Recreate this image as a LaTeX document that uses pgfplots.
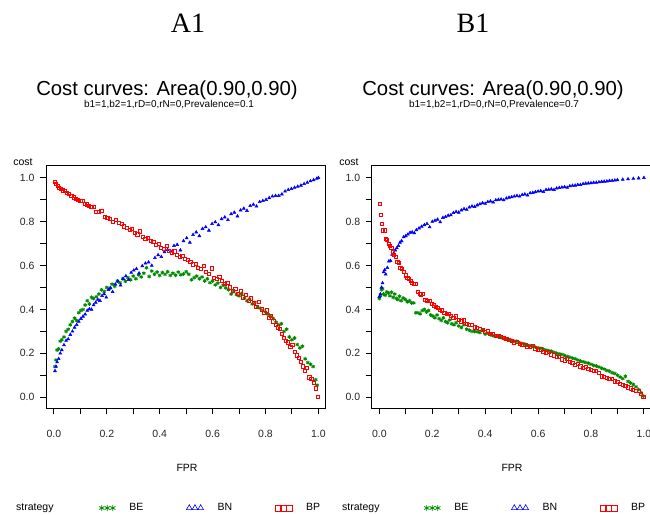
\documentclass[border=0pt]{standalone}
\usepackage{pgfplots}
\pgfplotsset{compat=1.18}
\usepackage{pgfplotstable}
\usepackage{fontspec}
\setmainfont{Liberation Sans}
\newfontfamily\timesf{Liberation Serif}
\definecolor{beg}{RGB}{0,140,0}
\definecolor{bnb}{RGB}{0,0,255}
\definecolor{bpr}{RGB}{255,0,0}

\pgfplotstableread{
x y
0.004 0.980
0.008 0.972
0.014 0.962
0.020 0.955
0.027 0.950
0.034 0.942
0.041 0.938
0.050 0.930
0.058 0.925
0.066 0.917
0.075 0.910
0.083 0.905
0.092 0.900
0.100 0.893
0.108 0.895
0.116 0.880
0.125 0.878
0.133 0.872
0.142 0.868
0.150 0.868
0.160 0.845
0.170 0.843
0.180 0.848
0.192 0.820
0.202 0.818
0.212 0.812
0.224 0.800
0.234 0.808
0.245 0.795
0.256 0.790
0.265 0.778
0.276 0.772
0.286 0.762
0.296 0.765
0.305 0.748
0.316 0.742
0.326 0.755
0.336 0.730
0.346 0.722
0.356 0.725
0.366 0.712
0.376 0.706
0.386 0.692
0.396 0.700
0.406 0.680
0.416 0.676
0.426 0.690
0.436 0.668
0.446 0.660
0.456 0.664
0.466 0.650
0.476 0.640
0.486 0.642
0.496 0.630
0.506 0.625
0.516 0.615
0.526 0.605
0.536 0.607
0.546 0.590
0.556 0.585
0.566 0.598
0.576 0.570
0.586 0.560
0.596 0.587
0.606 0.545
0.616 0.540
0.626 0.548
0.636 0.528
0.646 0.515
0.656 0.520
0.666 0.500
0.676 0.485
0.686 0.495
0.696 0.470
0.706 0.482
0.716 0.455
0.726 0.465
0.736 0.440
0.746 0.450
0.756 0.428
0.766 0.412
0.776 0.435
0.786 0.400
0.796 0.385
0.806 0.395
0.814 0.360
0.822 0.370
0.830 0.345
0.838 0.330
0.846 0.318
0.854 0.312
0.862 0.290
0.870 0.270
0.878 0.255
0.886 0.250
0.894 0.230
0.902 0.240
0.910 0.205
0.918 0.190
0.926 0.180
0.934 0.160
0.942 0.140
0.950 0.120
0.958 0.135
0.966 0.090
0.974 0.085
0.982 0.065
0.990 0.040
0.998 0.000
}\lbp

\pgfplotstableread{
x y
0.004 0.120
0.008 0.140
0.012 0.160
0.018 0.175
0.024 0.200
0.030 0.215
0.038 0.238
0.046 0.258
0.054 0.265
0.062 0.285
0.070 0.300
0.078 0.318
0.086 0.330
0.094 0.345
0.102 0.358
0.110 0.368
0.118 0.378
0.126 0.395
0.134 0.402
0.142 0.400
0.150 0.420
0.158 0.432
0.166 0.445
0.174 0.440
0.182 0.462
0.190 0.470
0.198 0.455
0.206 0.490
0.214 0.498
0.222 0.480
0.232 0.515
0.242 0.528
0.252 0.510
0.262 0.540
0.272 0.552
0.282 0.535
0.292 0.568
0.302 0.578
0.312 0.585
0.322 0.565
0.334 0.598
0.346 0.610
0.358 0.615
0.370 0.600
0.382 0.635
0.394 0.648
0.406 0.640
0.418 0.662
0.430 0.672
0.442 0.665
0.454 0.690
0.466 0.695
0.478 0.670
0.490 0.712
0.502 0.725
0.514 0.705
0.526 0.740
0.538 0.752
0.550 0.735
0.562 0.768
0.574 0.775
0.586 0.760
0.598 0.790
0.610 0.798
0.622 0.785
0.634 0.812
0.646 0.820
0.658 0.808
0.670 0.835
0.682 0.842
0.694 0.825
0.706 0.852
0.718 0.860
0.730 0.850
0.742 0.872
0.754 0.878
0.766 0.870
0.778 0.890
0.790 0.895
0.802 0.900
0.814 0.908
0.826 0.915
0.838 0.918
0.850 0.918
0.862 0.925
0.874 0.938
0.886 0.945
0.898 0.950
0.910 0.955
0.922 0.960
0.934 0.965
0.946 0.972
0.958 0.978
0.970 0.985
0.982 0.990
0.994 0.996
1.000 1.000
}\lbn

\pgfplotstableread{
x y
0.004 0.140
0.008 0.170
0.012 0.215
0.018 0.220
0.024 0.255
0.030 0.262
0.038 0.275
0.046 0.300
0.054 0.310
0.062 0.330
0.070 0.345
0.078 0.360
0.086 0.350
0.094 0.385
0.102 0.395
0.110 0.400
0.118 0.420
0.126 0.440
0.134 0.425
0.142 0.455
0.150 0.450
0.160 0.458
0.170 0.470
0.180 0.490
0.190 0.482
0.200 0.500
0.210 0.495
0.220 0.515
0.230 0.505
0.240 0.530
0.250 0.522
0.260 0.540
0.270 0.528
0.280 0.545
0.290 0.535
0.300 0.552
0.310 0.540
0.320 0.558
0.330 0.548
0.340 0.565
0.350 0.590
0.360 0.550
0.370 0.575
0.380 0.560
0.390 0.570
0.400 0.555
0.410 0.568
0.420 0.560
0.430 0.572
0.440 0.555
0.450 0.565
0.460 0.556
0.470 0.570
0.480 0.558
0.490 0.562
0.500 0.572
0.510 0.560
0.520 0.535
0.530 0.545
0.540 0.552
0.550 0.540
0.560 0.548
0.570 0.530
0.580 0.540
0.590 0.522
0.600 0.530
0.610 0.512
0.620 0.520
0.630 0.500
0.640 0.510
0.650 0.498
0.660 0.490
0.670 0.470
0.680 0.482
0.690 0.468
0.700 0.462
0.710 0.472
0.720 0.452
0.730 0.440
0.740 0.448
0.750 0.425
0.760 0.432
0.770 0.412
0.780 0.405
0.790 0.395
0.800 0.388
0.810 0.378
0.820 0.368
0.830 0.358
0.840 0.342
0.850 0.330
0.860 0.335
0.870 0.300
0.880 0.310
0.890 0.275
0.900 0.262
0.910 0.270
0.920 0.240
0.930 0.225
0.940 0.232
0.950 0.175
0.960 0.158
0.970 0.150
0.980 0.140
0.990 0.080
0.995 0.055
}\lbe

\pgfplotstableread{
x y
0.000 0.458
0.004 0.470
0.008 0.500
0.012 0.520
0.016 0.570
0.020 0.580
0.024 0.560
0.030 0.590
0.036 0.620
0.042 0.622
0.048 0.650
0.054 0.655
0.060 0.670
0.066 0.680
0.072 0.690
0.078 0.705
0.084 0.712
0.092 0.730
0.100 0.735
0.108 0.742
0.116 0.750
0.124 0.752
0.132 0.748
0.140 0.762
0.150 0.770
0.160 0.778
0.170 0.785
0.180 0.790
0.190 0.775
0.200 0.800
0.210 0.805
0.220 0.810
0.230 0.798
0.240 0.818
0.250 0.822
0.260 0.828
0.270 0.830
0.280 0.840
0.290 0.845
0.300 0.842
0.310 0.852
0.320 0.858
0.330 0.855
0.340 0.865
0.350 0.870
0.360 0.868
0.370 0.875
0.380 0.880
0.390 0.885
0.400 0.882
0.410 0.890
0.420 0.893
0.430 0.888
0.440 0.898
0.450 0.900
0.460 0.902
0.470 0.898
0.480 0.906
0.490 0.910
0.500 0.912
0.510 0.915
0.520 0.918
0.530 0.915
0.540 0.922
0.550 0.925
0.560 0.920
0.570 0.930
0.580 0.932
0.590 0.935
0.600 0.938
0.610 0.940
0.620 0.936
0.630 0.945
0.640 0.946
0.650 0.948
0.660 0.945
0.670 0.952
0.680 0.954
0.690 0.956
0.700 0.958
0.710 0.955
0.720 0.962
0.730 0.964
0.740 0.965
0.750 0.968
0.760 0.968
0.770 0.972
0.780 0.974
0.790 0.975
0.800 0.976
0.810 0.978
0.820 0.978
0.830 0.980
0.840 0.982
0.850 0.983
0.860 0.984
0.870 0.986
0.880 0.987
0.890 0.988
0.900 0.990
0.920 0.992
0.940 0.994
0.960 0.996
0.980 0.998
1.000 1.000
}\rbn

\pgfplotstableread{
x y
0.003 0.880
0.006 0.830
0.010 0.790
0.014 0.760
0.020 0.760
0.026 0.720
0.030 0.715
0.036 0.700
0.040 0.690
0.046 0.680
0.052 0.660
0.056 0.650
0.062 0.640
0.068 0.615
0.074 0.612
0.080 0.588
0.086 0.585
0.094 0.570
0.100 0.555
0.106 0.545
0.112 0.540
0.118 0.530
0.124 0.520
0.130 0.515
0.136 0.515
0.146 0.480
0.152 0.470
0.158 0.468
0.166 0.470
0.174 0.445
0.182 0.440
0.190 0.440
0.198 0.425
0.206 0.418
0.214 0.410
0.222 0.405
0.230 0.398
0.238 0.395
0.246 0.385
0.254 0.380
0.262 0.378
0.270 0.370
0.280 0.362
0.290 0.368
0.300 0.352
0.310 0.345
0.320 0.350
0.330 0.335
0.340 0.328
0.350 0.330
0.360 0.318
0.370 0.315
0.380 0.310
0.390 0.305
0.400 0.298
0.410 0.300
0.420 0.290
0.430 0.288
0.440 0.280
0.450 0.278
0.460 0.275
0.470 0.270
0.480 0.265
0.490 0.262
0.500 0.258
0.510 0.250
0.520 0.252
0.530 0.242
0.540 0.238
0.550 0.240
0.560 0.230
0.570 0.228
0.580 0.232
0.590 0.220
0.600 0.215
0.610 0.218
0.620 0.208
0.630 0.200
0.640 0.205
0.650 0.195
0.660 0.190
0.670 0.182
0.680 0.185
0.690 0.172
0.700 0.168
0.710 0.175
0.720 0.160
0.730 0.155
0.740 0.148
0.750 0.150
0.760 0.140
0.770 0.135
0.780 0.138
0.790 0.128
0.800 0.125
0.810 0.118
0.820 0.120
0.830 0.110
0.840 0.095
0.850 0.092
0.860 0.088
0.870 0.082
0.880 0.085
0.890 0.072
0.900 0.070
0.910 0.062
0.920 0.055
0.930 0.050
0.940 0.045
0.950 0.040
0.960 0.035
0.970 0.030
0.980 0.028
0.990 0.015
0.998 0.000
}\rbp

\pgfplotstableread{
x y
0.000 0.450
0.004 0.462
0.008 0.490
0.012 0.495
0.016 0.470
0.022 0.465
0.028 0.480
0.034 0.475
0.040 0.462
0.046 0.478
0.052 0.455
0.058 0.470
0.064 0.450
0.070 0.445
0.076 0.460
0.082 0.440
0.090 0.452
0.098 0.445
0.106 0.435
0.114 0.440
0.122 0.430
0.130 0.430
0.138 0.385
0.146 0.385
0.154 0.380
0.162 0.395
0.170 0.400
0.178 0.388
0.186 0.395
0.194 0.375
0.202 0.370
0.210 0.362
0.218 0.375
0.226 0.358
0.234 0.350
0.242 0.362
0.250 0.345
0.258 0.340
0.266 0.352
0.274 0.335
0.282 0.330
0.290 0.340
0.300 0.325
0.310 0.318
0.320 0.330
0.330 0.310
0.340 0.305
0.350 0.300
0.360 0.300
0.370 0.298
0.380 0.295
0.390 0.305
0.400 0.288
0.410 0.292
0.420 0.285
0.430 0.280
0.440 0.278
0.450 0.275
0.460 0.272
0.470 0.268
0.480 0.265
0.490 0.262
0.500 0.258
0.510 0.255
0.520 0.255
0.530 0.248
0.540 0.245
0.550 0.242
0.560 0.238
0.570 0.235
0.580 0.232
0.590 0.228
0.600 0.225
0.610 0.222
0.620 0.218
0.630 0.215
0.640 0.212
0.650 0.210
0.660 0.205
0.670 0.200
0.680 0.198
0.690 0.195
0.700 0.190
0.710 0.186
0.720 0.182
0.730 0.178
0.740 0.175
0.750 0.170
0.760 0.165
0.770 0.162
0.780 0.158
0.790 0.155
0.800 0.150
0.810 0.145
0.820 0.142
0.830 0.138
0.840 0.132
0.850 0.128
0.860 0.122
0.870 0.118
0.880 0.112
0.890 0.108
0.900 0.100
0.910 0.092
0.920 0.085
0.930 0.095
0.940 0.072
0.950 0.065
0.960 0.058
0.970 0.048
0.980 0.035
0.990 0.020
0.998 0.005
}\rbe

\pgfplotsset{
  cc/.style={
    scale only axis, height=243pt,
    ymin=-0.049, ymax=1.058,
    xtick={0,0.2,0.4,0.6,0.8,1}, xticklabels={0.0,0.2,0.4,0.6,0.8,1.0},
    minor xtick={0.1,0.3,0.5,0.7,0.9},
    ytick={0,0.2,0.4,0.6,0.8,1}, yticklabels={0.0,0.2,0.4,0.6,0.8,1.0},
    minor ytick={0.1,0.3,0.5,0.7,0.9},
    xtick pos=bottom, ytick pos=left,
    tick align=outside, major tick length=6pt, minor tick length=6pt,
    every tick/.style={black, line width=0.9pt},
    axis line style={line width=0.9pt},
    tick label style={font=\fontsize{10.5}{12}\selectfont, text=black!85},
    xticklabel style={yshift=-13pt},
    yticklabel style={xshift=-2pt},
    legend columns=3,
    legend cell align=left,
    legend style={draw=none, fill=none, anchor=west, inner xsep=0pt, inner ysep=0pt,
      font=\fontsize{10.5}{12}\selectfont,
      /tikz/every odd column/.append style={column sep=12pt},
      /tikz/every even column/.append style={column sep=41pt}},
  },
  be/.style={only marks, color=beg, mark=asterisk, mark size=1.9pt, line width=0.9pt,
    legend image code/.code={\draw[#1, only marks, mark=asterisk, mark size=3pt, line width=0.8pt] plot coordinates {(3pt,0pt)(8.5pt,0pt)(14pt,0pt)};}},
  bn/.style={only marks, color=bnb, mark=triangle*, mark size=1.7pt, line width=0.5pt,
    legend image code/.code={\draw[#1, only marks, mark=triangle, mark size=3.3pt, line width=0.6pt] plot coordinates {(2.9pt,0pt)(8.6pt,0pt)(14.3pt,0pt)};}},
  bp/.style={only marks, color=bpr, mark=square, mark size=1.6pt, line width=0.9pt,
    legend image code/.code={\draw[#1, only marks, mark=square, mark size=2.8pt, line width=0.6pt] plot coordinates {(2.8pt,0pt)(8.5pt,0pt)(14.2pt,0pt)};}},
}

\begin{document}
\begin{tikzpicture}[x=1pt,y=1pt]
\useasboundingbox (0,0) rectangle (650,-514);

\begin{axis}[cc, at={(46pt,-408pt)}, anchor=south west, width=279pt,
  xmin=-0.030, xmax=1.025,
  legend style={at={(0.19,-0.4115)}}]
\addplot[be] table {\lbe}; \addlegendentry{BE}
\addplot[bn] table {\lbn}; \addlegendentry{BN}
\addplot[bp] table {\lbp}; \addlegendentry{BP}
\end{axis}

\begin{axis}[cc, at={(371.7pt,-408pt)}, anchor=south west, width=278.3pt,
  xmin=-0.029, xmax=1.023,
  legend style={at={(0.188,-0.4115)}}]
\addplot[be] table {\rbe}; \addlegendentry{BE}
\addplot[bn] table {\rbn}; \addlegendentry{BN}
\addplot[bp] table {\rbp}; \addlegendentry{BP}
\end{axis}

\node[font=\timesf\fontsize{28}{30}\selectfont] at (188,-23) {A1};
\node[font=\timesf\fontsize{28}{30}\selectfont] at (473,-23) {B1};
\node[font=\fontsize{20.3}{22}\selectfont] at (167,-90) {Cost curves: Area(0.90,0.90)};
\node[font=\fontsize{20.3}{22}\selectfont] at (493,-90) {Cost curves: Area(0.90,0.90)};
\node[font=\fontsize{10}{11}\selectfont] at (169,-105) {b1=1,b2=1,rD=0,rN=0,Prevalence=0.1};
\node[font=\fontsize{10}{11}\selectfont] at (494,-105) {b1=1,b2=1,rD=0,rN=0,Prevalence=0.7};
\node[font=\fontsize{10.5}{12}\selectfont] at (23,-162) {cost};
\node[font=\fontsize{10.5}{12}\selectfont] at (349,-162) {cost};
\node[font=\fontsize{10.5}{12}\selectfont] at (187,-468) {FPR};
\node[font=\fontsize{10.5}{12}\selectfont] at (512,-468) {FPR};
\node[font=\fontsize{10.5}{12}\selectfont, anchor=west, inner sep=0pt] at (16,-508) {strategy};
\node[font=\fontsize{10.5}{12}\selectfont, anchor=west, inner sep=0pt] at (342,-508) {strategy};
\end{tikzpicture}
\end{document}
